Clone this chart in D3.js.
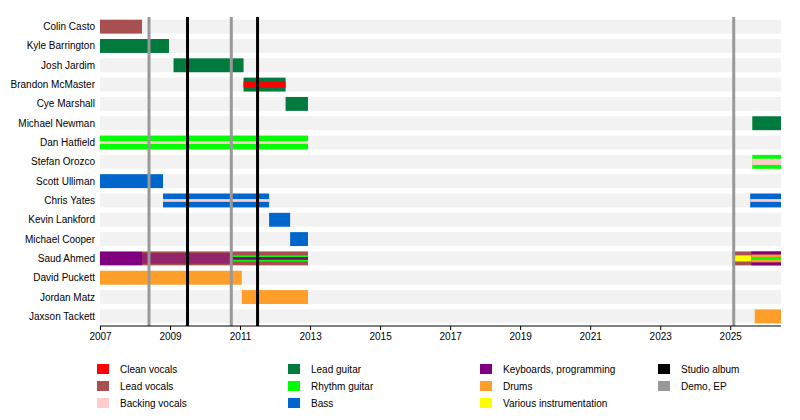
<!DOCTYPE html>
<html><head><meta charset="utf-8">
<script src="https://cdn.jsdelivr.net/npm/d3@7"></script>
<style>body{margin:0;background:#fff}text{font-family:"Liberation Sans",Arial,sans-serif;font-size:10px}</style>
</head><body><svg id="c" width="800" height="420"></svg>
<script>
const members = ["Colin Casto","Kyle Barrington","Josh Jardim","Brandon McMaster","Cye Marshall","Michael Newman","Dan Hatfield","Stefan Orozco","Scott Ulliman","Chris Yates","Kevin Lankford","Michael Cooper","Saud Ahmed","David Puckett","Jordan Matz","Jaxson Tackett"];
const roles = ["Clean vocals","Lead vocals","Backing vocals","Lead guitar","Rhythm guitar","Bass","Keyboards, programming","Drums","Various instrumentation"];
const roleColors = ["#ff0000","#a85050","#ffcccc","#007a3d","#00ff00","#0066cc","#800080","#ff9f2a","#ffff00"];
const END = 2026.45;
// [member, role, start, end, layer] layer: 0 full, 1 middle band, 2 thin stripe
const spans = [
  ["Colin Casto","Lead vocals",2007,2008.2,0],
  ["Kyle Barrington","Lead guitar",2007,2008.97,0],
  ["Josh Jardim","Lead guitar",2009.1,2011.1,0],
  ["Brandon McMaster","Lead guitar",2011.1,2012.3,0],
  ["Brandon McMaster","Clean vocals",2011.1,2012.3,1],
  ["Cye Marshall","Lead guitar",2012.3,2012.94,0],
  ["Michael Newman","Lead guitar",2025.63,END,0],
  ["Dan Hatfield","Rhythm guitar",2007,2012.94,0],
  ["Dan Hatfield","Backing vocals",2007,2012.94,2],
  ["Stefan Orozco","Rhythm guitar",2025.63,END,0],
  ["Stefan Orozco","Backing vocals",2025.63,END,1],
  ["Scott Ulliman","Bass",2007,2008.8,0],
  ["Chris Yates","Bass",2008.8,2011.83,0],
  ["Chris Yates","Backing vocals",2008.8,2011.83,2],
  ["Chris Yates","Bass",2025.57,END,0],
  ["Chris Yates","Backing vocals",2025.57,END,2],
  ["Kevin Lankford","Bass",2011.83,2012.43,0],
  ["Michael Cooper","Bass",2012.43,2012.94,0],
  ["Saud Ahmed","Keyboards, programming",2007,2008.2,0],
  ["Saud Ahmed","Lead vocals",2008.2,2012.94,0],
  ["Saud Ahmed","Keyboards, programming",2008.2,2010.8,3],
  ["Saud Ahmed","Rhythm guitar",2010.8,2012.94,1],
  ["Saud Ahmed","Keyboards, programming",2010.8,2012.94,2],
  ["Saud Ahmed","Lead vocals",2025.06,END,0],
  ["Saud Ahmed","Various instrumentation",2025.06,2025.6,1],
  ["Saud Ahmed","Keyboards, programming",2025.6,END,0],
  ["Saud Ahmed","Drums",2025.6,END,4],
  ["Saud Ahmed","Rhythm guitar",2025.6,END,2],
  ["David Puckett","Drums",2007,2011.05,0],
  ["Jordan Matz","Drums",2011.05,2012.94,0],
  ["Jaxson Tackett","Drums",2025.7,END,0]
];
const demos = [2008.4,2010.75,2025.1];
const albums = [2009.5,2011.5];
const tickYears = [2007,2009,2011,2013,2015,2017,2019,2021,2023,2025];

const svg = d3.select("#c");
const x = d3.scaleLinear().domain([2007,END]).range([100,781]);
const y = d3.scaleBand().domain(members).range([17,326]).paddingInner(0.28).paddingOuter(0.14);
const color = d3.scaleOrdinal().domain(roles).range(roleColors);
const bw = y.bandwidth();

svg.append("g").selectAll("rect").data(members).join("rect")
  .attr("x",x(2007)).attr("width",x(END)-x(2007))
  .attr("y",d=>y(d)).attr("height",bw).attr("fill","#f2f2f2");

svg.append("g").selectAll("text").data(members).join("text")
  .attr("x",95).attr("y",d=>y(d)+bw/2).attr("dy","0.35em").attr("text-anchor","end").text(d=>d);

const layerBox = l => [[0,1],[0.28,0.44],[0.4,0.2],[0.12,0.76],[0.22,0.56]][l];
svg.append("g").selectAll("rect").data(spans).join("rect")
  .attr("x",d=>x(d[2])).attr("width",d=>x(d[3])-x(d[2]))
  .attr("y",d=>y(d[0])+bw*layerBox(d[4])[0]).attr("height",d=>bw*layerBox(d[4])[1])
  .attr("fill",d=>color(d[1])).attr("opacity",d=>d[4]===3?0.55:1);

svg.append("g").selectAll("line").data(demos).join("line")
  .attr("x1",d=>x(d)).attr("x2",d=>x(d)).attr("y1",17).attr("y2",326)
  .attr("stroke","#999").attr("stroke-width",3);
svg.append("g").selectAll("line").data(albums).join("line")
  .attr("x1",d=>x(d)).attr("x2",d=>x(d)).attr("y1",17).attr("y2",326)
  .attr("stroke","#000").attr("stroke-width",3);

const ax = svg.append("g").attr("transform","translate(0,326)")
  .call(d3.axisBottom(x).tickValues(tickYears).tickFormat(d3.format("d")).tickSize(4).tickSizeOuter(0));
ax.select(".domain").attr("d",`M${x(2007)},0H${x(END)}`);
ax.selectAll("text").style("font-family","Liberation Sans, Arial, sans-serif").style("font-size","10px");

const legendItems = roles.concat(["Studio album","Demo, EP"]);
const legendColors = roleColors.concat(["#000","#999"]);
const cols = [97,288,480,658];
svg.append("g").selectAll("g").data(legendItems).join("g")
  .attr("transform",(d,i)=>{
    const c = i<9 ? Math.floor(i/3) : 3, r = i<9 ? i%3 : i-9;
    return `translate(${cols[c]},${364+r*17})`;
  })
  .call(g=>{
    g.append("rect").attr("width",12).attr("height",10).attr("fill",(d,i)=>legendColors[i]);
    g.append("text").attr("x",23).attr("y",5).attr("dy","0.35em").text(d=>d);
  });
</script></body></html>
